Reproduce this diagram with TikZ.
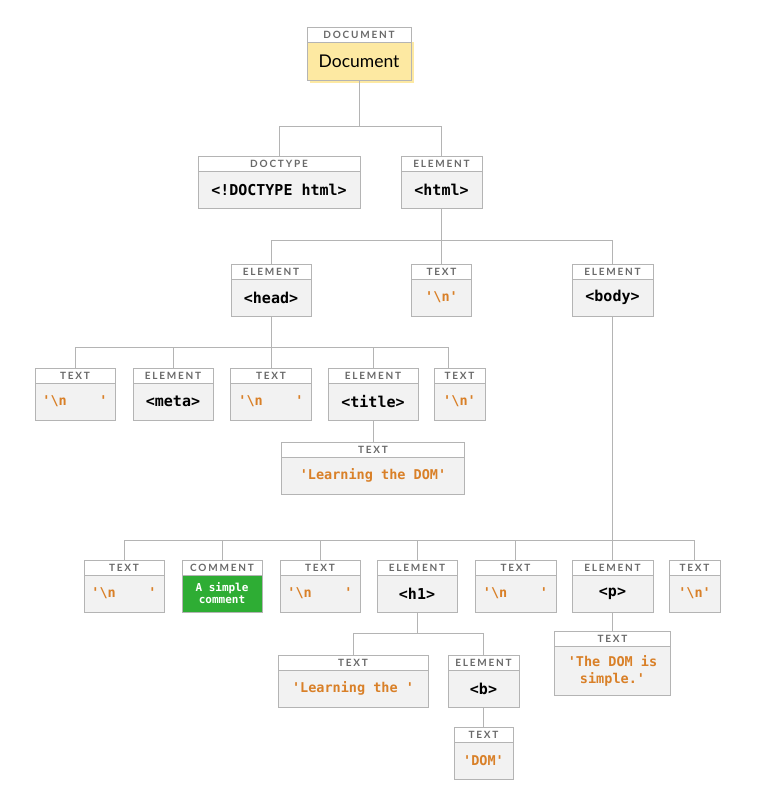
\documentclass[tikz,border=0pt]{standalone}
\usepackage{fontspec}
\setmainfont{Lato}
\setmonofont{DejaVu Sans Mono}
\newfontfamily\kindfont[LetterSpace=18]{Lato}
\usetikzlibrary{positioning}

\tikzset{
  kind/.style={draw=lineColor, line width=0.9pt, fill=white, inner sep=0pt, outer sep=0pt,
    minimum height=15pt, anchor=north, text=kindColor,
    font=\kindfont\bfseries\fontsize{10}{10}\selectfont},
  val/.style={draw=lineColor, line width=0.9pt, fill=valFill, inner sep=0pt, outer sep=0pt,
    minimum height=37pt, align=center,
    font=\ttfamily\bfseries\fontsize{15}{16}\selectfont},
  str/.style={text=strColor, font=\ttfamily\bfseries\fontsize{13.5}{17}\selectfont},
  link/.style={draw=lineColor, line width=0.9pt},
}

% header box on top, value box below it
\newcommand{\domnode}[6][]{%
  \node[kind, minimum width=#4pt] (#2-k) at (#3) {#5};
  \node[val, minimum width=#4pt, below=0pt of #2-k, #1] (#2) {#6};
}
\newcommand{\bsn}{\textbackslash n}

\begin{document}
\begin{tikzpicture}[x=1pt,y=-1pt]
\definecolor{lineColor}{RGB}{180,180,180}
\definecolor{kindColor}{RGB}{105,105,105}
\definecolor{valFill}{RGB}{242,242,242}
\definecolor{strColor}{RGB}{217,128,40}
\definecolor{docYellow}{RGB}{253,233,162}
\definecolor{commentGreen}{RGB}{46,173,52}
\path[use as bounding box,fill=white] (0,0) rectangle (766,790);

\domnode[fill=docYellow, minimum height=38pt, font=\fontsize{17.5}{19}\selectfont]{document}{359,27}{104}{DOCUMENT}{Document}
\fill[docYellow] ([shift={(3,0)}]document.north west) rectangle ([shift={(3,3)}]document.south east);
\draw[link] (document.north west) rectangle (document.south east);
\node[font=\fontsize{17.5}{19}\selectfont] at (document) {Document};

\domnode{doctype}{279,156}{162}{DOCTYPE}{<!DOCTYPE html>}
\domnode{html}{441.5,156}{81}{ELEMENT}{<html>}

\domnode{head}{271,264}{80}{ELEMENT}{<head>}
\domnode[str]{nlA}{441.5,264}{60}{TEXT}{'\bsn'}
\domnode{body}{612.5,264}{81}{ELEMENT}{<body>}

\domnode[str]{t1}{75,368}{80}{TEXT}{'\bsn\phantom{xxxx}'}
\domnode{meta}{173,368}{80}{ELEMENT}{<meta>}
\domnode[str]{t2}{271,368}{81}{TEXT}{'\bsn\phantom{xxxx}'}
\domnode{title}{373,368}{90}{ELEMENT}{<title>}
\domnode[str]{t3}{459.5,368}{51}{TEXT}{'\bsn'}
\domnode[str]{titletext}{373,442}{183}{TEXT}{'Learning the DOM'}

\domnode[str]{t4}{124,560}{80}{TEXT}{'\bsn\phantom{xxxx}'}
\domnode[fill=commentGreen, text=white, font=\ttfamily\bfseries\fontsize{11}{12}\selectfont]{comment}{222,560}{80}{COMMENT}{A simple\\comment}
\domnode[str]{t5}{320,560}{80}{TEXT}{'\bsn\phantom{xxxx}'}
\domnode{h1}{417,560}{80}{ELEMENT}{<h1>}
\domnode[str]{t6}{515.5,560}{81}{TEXT}{'\bsn\phantom{xxxx}'}
\domnode{p}{612.5,560}{81}{ELEMENT}{<p>}
\domnode[str]{t7}{694.5,560}{51}{TEXT}{'\bsn'}

\domnode[str]{h1text}{353,655}{150}{TEXT}{'Learning the '}
\domnode{b}{483.5,655}{71}{ELEMENT}{<b>}
\domnode[str]{domtext}{483.5,727}{59}{TEXT}{'DOM'}
\domnode[str, minimum height=49pt]{ptext}{612.5,631}{116}{TEXT}{'The DOM is\\simple.'}

\coordinate (docbar) at (359,126);
\coordinate (htmlbar) at (441.5,240);
\coordinate (headbar) at (271,347);
\coordinate (bodybar) at (612.5,540);
\coordinate (h1bar) at (417,633);
\coordinate (t3top) at (448,368);

\draw[link] (document.south) -- (docbar);
\foreach \c in {doctype,html}
  \draw[link] (docbar) -| (\c-k.north);
\draw[link] (html.south) -- (htmlbar);
\foreach \c in {head,nlA,body}
  \draw[link] (htmlbar) -| (\c-k.north);
\draw[link] (head.south) -- (headbar);
\foreach \c in {t1,meta,t2,title}
  \draw[link] (headbar) -| (\c-k.north);
\draw[link] (headbar) -| (t3top);
\draw[link] (title.south) -- (titletext-k.north);
\draw[link] (body.south) -- (bodybar);
\foreach \c in {t4,comment,t5,h1,t6,p,t7}
  \draw[link] (bodybar) -| (\c-k.north);
\draw[link] (p.south) -- (ptext-k.north);
\draw[link] (h1.south) -- (h1bar);
\foreach \c in {h1text,b}
  \draw[link] (h1bar) -| (\c-k.north);
\draw[link] (b.south) -- (domtext-k.north);
\end{tikzpicture}
\end{document}
